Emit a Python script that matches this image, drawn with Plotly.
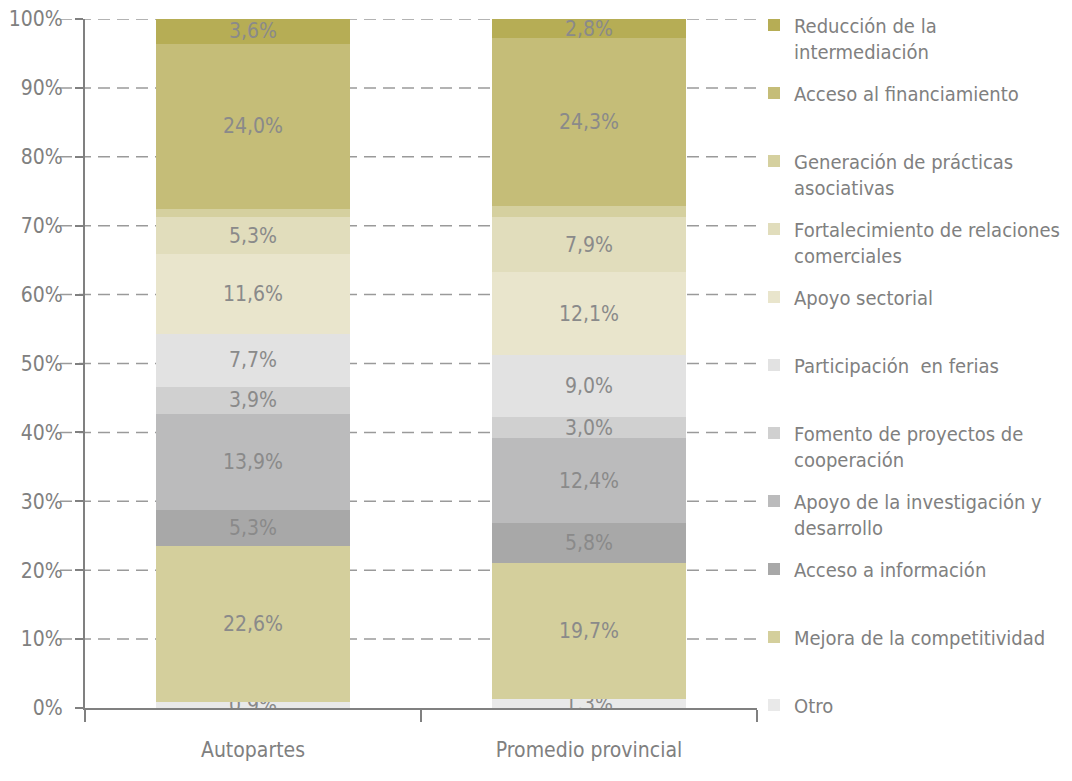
import plotly.graph_objects as go

categories = ["Autopartes", "Promedio provincial"]

# series, from bottom of the stack to top
series_names = [
    "Otro",
    "Mejora de la competitividad",
    "Acceso a información",
    "Apoyo de la investigación y<br>desarrollo",
    "Fomento de proyectos de<br>cooperación",
    "Participación  en ferias",
    "Apoyo sectorial",
    "Fortalecimiento de relaciones<br>comerciales",
    "Generación de prácticas<br>asociativas",
    "Acceso al financiamiento",
    "Reducción de la<br>intermediación",
]
otro = [0.9, 1.3]
mejora = [22.6, 19.7]
acceso_info = [5.3, 5.8]
apoyo_id = [13.9, 12.4]
fomento = [3.9, 3.0]
ferias = [7.7, 9.0]
apoyo_sectorial = [11.6, 12.1]
fortalecimiento = [5.3, 7.9]
generacion = [1.2, 1.7]
financiamiento = [24.0, 24.3]
reduccion = [3.6, 2.8]
series_values = [otro, mejora, acceso_info, apoyo_id, fomento, ferias,
                 apoyo_sectorial, fortalecimiento, generacion, financiamiento, reduccion]
show_labels = [True, True, True, True, True, True, True, True, False, True, True]
colors = ["#E9E9E9", "#D4CF9C", "#A8A8A8", "#BBBBBC", "#D0D0D0", "#E2E2E2",
          "#E9E5CC", "#E1DDBC", "#D5D09F", "#C5BD78", "#B6AD55"]

FONT = "DejaVu Sans Condensed, Liberation Sans Narrow, sans-serif"
GRAY = "#808080"

# page body has an 8px margin; the figure is sized to fill the rest of the window
PAGE_OFF = 8
W, H = 1072 - PAGE_OFF, 781 - PAGE_OFF
# target plot box in window pixels: x 85..757, y 19..708
ML = 85 - PAGE_OFF
MT = 19 - PAGE_OFF
MR = (1072 - 757)
MB = (781 - 708)
plot_h = H - MT - MB
plot_w = W - ML - MR

fig = go.Figure()
n = len(series_names)
for i, (name, vals, col, lab) in enumerate(zip(series_names, series_values, colors, show_labels)):
    txt = [(f"{v:.1f}%".replace(".", ",") if lab else "") for v in vals]
    leg = "legend" if i == 0 else f"legend{i+1}"
    fig.add_trace(go.Bar(
        x=categories, y=vals, name=name, marker=dict(color=col, line=dict(width=0)),
        text=txt, textposition="inside", insidetextanchor="middle",
        constraintext="none", textangle=0,
        insidetextfont=dict(family=FONT, size=21, color="#8A8A8A"),
        width=0.58, legend=leg, hoverinfo="skip",
    ))

# legends: one per series, spaced evenly down the right side (window pixels)
for i in range(n):
    pos = n - 1 - i  # 0 = top
    center_px = 25 + 68 * pos - PAGE_OFF
    top_px = center_px - 19.5
    key = "legend" if i == 0 else f"legend{i+1}"
    fig.layout[key] = dict(
        x=(754 - PAGE_OFF - ML) / plot_w, xanchor="left",
        y=(H - MB - top_px) / plot_h, yanchor="top",
        valign="top", bgcolor="rgba(0,0,0,0)", borderwidth=0,
        font=dict(family=FONT, size=20, color=GRAY),
        itemclick=False, itemdoubleclick=False,
    )

# dashed gridlines extending left over the tick labels
for v in range(10, 101, 10):
    fig.add_shape(type="line", xref="paper", yref="y",
                  x0=(60 - 85) / plot_w, x1=1, y0=v, y1=v,
                  line=dict(color="#9A9A9A", width=1.5, dash="12px,7px"), layer="below")

fig.update_layout(
    width=W, height=H, barmode="stack",
    margin=dict(l=ML, r=MR, t=MT, b=MB, autoexpand=False),
    plot_bgcolor="white", paper_bgcolor="white",
    font=dict(family=FONT, color=GRAY, size=21),
    showlegend=True,
)
fig.update_xaxes(
    type="category", range=[-0.5, 1.5], showgrid=False, automargin=False,
    showline=True, linecolor=GRAY, linewidth=2,
    ticks="outside", tickson="boundaries", ticklen=12, tickwidth=2, tickcolor=GRAY,
    tickfont=dict(family=FONT, size=21, color=GRAY), ticklabelstandoff=22,
    ticklabeloverflow="allow",
)
fig.update_yaxes(
    range=[0, 100], dtick=10, ticksuffix="%", showgrid=False, zeroline=False, automargin=False,
    showline=True, linecolor=GRAY, linewidth=2,
    ticks="outside", ticklen=8, tickwidth=2, tickcolor=GRAY,
    tickfont=dict(family=FONT, size=21, color=GRAY), ticklabelstandoff=8,
    ticklabeloverflow="allow",
)

fig.write_html("out.html")
